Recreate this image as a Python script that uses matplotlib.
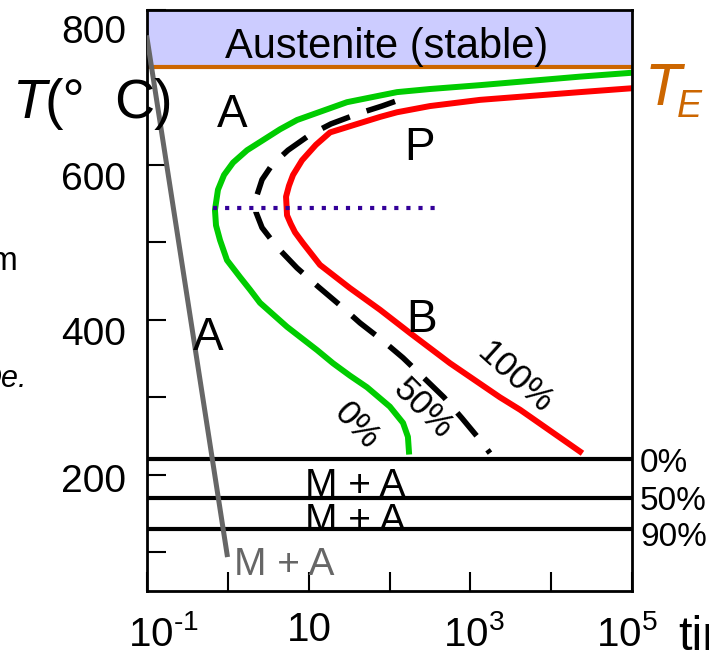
import matplotlib
matplotlib.use("Agg")
import matplotlib.pyplot as plt
from matplotlib.transforms import ScaledTranslation

plt.rcParams['font.family'] = ['Liberation Sans', 'DejaVu Sans']
plt.rcParams['mathtext.fontset'] = 'custom'
plt.rcParams['mathtext.rm'] = 'Liberation Sans'
plt.rcParams['mathtext.it'] = 'Liberation Sans:italic'

# TTT curves (time in s, temperature in C)
t_start = [1e5, 2.28e4, 1320, 317, 124, 29.8, 7.18, 4.42, 2.72, 1.73, 1.16, 0.897, 0.755,
           0.693, 0.714, 0.80, 0.977, 1.42, 1.88, 2.50, 5.40, 7.82, 12.7, 20.0, 32.4,
           52.7, 101, 147, 169, 174]
T_start = [719, 714, 703, 698, 694, 681, 658, 646, 632, 619, 603, 587, 568,
           542, 522, 503, 477, 455, 439, 422, 391, 378, 361, 344, 328,
           313, 288, 267, 249, 230]

t_half = [117, 80.7, 43.2, 18.9, 10.4, 5.55, 3.52, 2.65, 2.23, 2.23, 2.65, 4.06,
          7.18, 13.4, 24.4, 43.2, 80.7, 147, 267, 472, 789, 1318, 1750]
T_half = [682, 676, 667, 653, 639, 619, 600, 581, 557, 539, 519, 494,
          467, 442, 419, 396, 374, 351, 325, 300, 273, 245, 228]

t_end = [1e5, 22750, 5470, 1318, 317, 124, 76.4, 37.4, 18.4, 12.3, 8.28, 6.40, 5.70,
         5.25, 5.40, 6.00, 6.78, 8.51, 13.8, 32.4, 76.4, 179.5, 561, 2328, 4121, 22750]
T_end = [699, 694, 689, 684, 676, 668, 662, 652, 642, 626, 606, 587, 573,
         559, 535, 524, 513, 499, 471, 441, 413, 383, 344, 300, 284, 230]

# quench path
t_quench = [0.1, 0.98]
T_quench = [764, 97]

# isothermal hold
t_hold = [0.65, 380]
T_hold = [545, 545]

T_eutectoid = 727
T_martensite = [220, 170, 130]
martensite_labels = ['0%', '50%', '90%']

xticks = [0.1, 10, 1e3, 1e5]
xtick_labels = ['$10^{\u20101}$', '10', '$10^{3}$', '$10^{5}$']
xminor = [1, 100, 1e4]
yticks = [200, 400, 600, 800]
yminor = [100, 300, 500]

W, H = 709, 659
fig = plt.figure(figsize=(W / 100, H / 100), dpi=100)
ax = fig.add_axes([147 / W, 68 / H, 485 / W, 581 / H])


def fx(x):
    return x / W


def fy(y):
    return 1 - y / H


ax.set_xscale('log')
ax.set_xlim(0.1, 1e5)
ax.set_ylim(50, 800)

ax.axhspan(T_eutectoid, 800, color='#ccccff', lw=0, zorder=0)
ax.axhline(T_eutectoid, color='#cc6600', lw=3, zorder=1)

ax.plot(t_start, T_start, color='#00cc00', lw=4.3, zorder=2)
ax.plot(t_end, T_end, color='#ff0000', lw=4.3, zorder=2)
ax.plot(t_half, T_half, color='black', lw=4, ls=(0, (5.4, 3.2)), zorder=2)
ax.plot(t_hold, T_hold, color='#330099', lw=3, ls=(0, (1, 1.9)), zorder=2)

for T in T_martensite:
    ax.axhline(T, color='black', lw=3, zorder=3)

ax.plot(t_quench, T_quench, color='#666666', lw=3.6, zorder=4)

for s in ax.spines.values():
    s.set_linewidth(2)

ax.set_xticks(xticks)
ax.set_xticklabels(xtick_labels)
ax.set_xticks(xminor, minor=True)
ax.set_yticks(yticks)
ax.set_yticks(yminor, minor=True)
ax.tick_params(which='both', direction='in', length=14, width=1.5)
ax.tick_params(axis='x', which='major', labelsize=29, pad=17)
ax.tick_params(axis='y', which='major', labelsize=28, pad=15)
ax.xaxis.set_minor_formatter(plt.NullFormatter())

# tick label nudges (px)
for lab, (dx, dy) in zip(ax.get_xticklabels(), [(16, 0), (1, -4), (3, 0), (-5, 0)]):
    lab.set_transform(lab.get_transform() + ScaledTranslation(dx / 100, -dy / 100, fig.dpi_scale_trans))
for lab, dy in zip(ax.get_yticklabels(), [3, 11, 11, 19]):
    lab.set_transform(lab.get_transform() + ScaledTranslation(0, -dy / 100, fig.dpi_scale_trans))

# labels
fig.text(fx(387), fy(58), 'Austenite (stable)', fontsize=30, ha='center', va='baseline')
fig.text(fx(12), fy(118), 'T', fontsize=40, style='italic', ha='left', va='baseline')
fig.text(fx(45), fy(118), '(°', fontsize=40, ha='left', va='baseline')
fig.text(fx(114), fy(118), 'C)', fontsize=40, ha='left', va='baseline')
fig.text(fx(645), fy(105), 'T', fontsize=43, style='italic', color='#cc6600', ha='left', va='baseline')
fig.text(fx(677), fy(117), 'E', fontsize=27, style='italic', color='#cc6600', ha='left', va='baseline')

fig.text(fx(232), fy(127), 'A', fontsize=33, ha='center', va='baseline')
fig.text(fx(208), fy(350), 'A', fontsize=33, ha='center', va='baseline')
fig.text(fx(419), fy(160), 'P', fontsize=33, ha='center', va='baseline')
fig.text(fx(422), fy(332), 'B', fontsize=33, ha='center', va='baseline')

fig.text(fx(357), fy(426), '0%', fontsize=25, rotation=-47, rotation_mode='anchor', ha='center', va='center')
fig.text(fx(423), fy(409), '50%', fontsize=25, rotation=-45, rotation_mode='anchor', ha='center', va='center')
fig.text(fx(515), fy(378), '100%', fontsize=25, rotation=-42, rotation_mode='anchor', ha='center', va='center')

fig.text(fx(355), fy(496), 'M + A', fontsize=28, ha='center', va='baseline')
fig.text(fx(355), fy(531), 'M + A', fontsize=28, ha='center', va='baseline')
fig.text(fx(284), fy(575), 'M + A', fontsize=28, color='#666666', ha='center', va='baseline')

for lab, y in zip(martensite_labels, [472, 510, 546]):
    fig.text(fx(640), fy(y), lab, fontsize=24, ha='left', va='baseline')

fig.text(fx(678), fy(650), 'time', fontsize=35, ha='left', va='baseline')
fig.text(fx(18), fy(270), 'm', fontsize=24, ha='right', va='baseline')
fig.text(fx(27), fy(387), 'De.', fontsize=22, style='italic', ha='right', va='baseline')

fig.savefig('out.png', dpi=100)
